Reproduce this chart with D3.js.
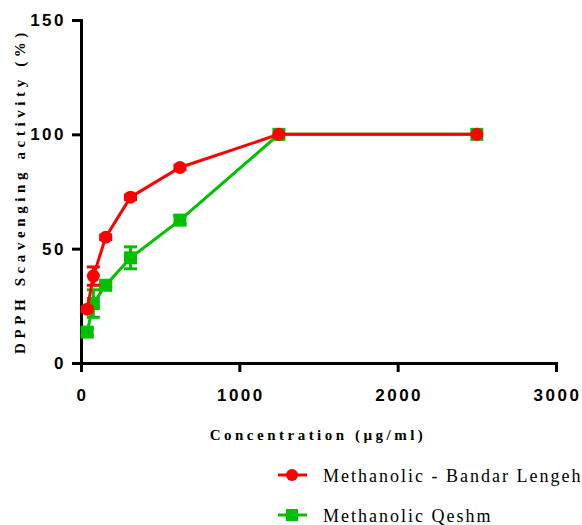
<!DOCTYPE html>
<html lang="en">
<head>
<meta charset="UTF-8">
<title>DPPH Scavenging activity</title>
<style>
  body { margin: 0; background: #fff; }
  svg { display: block; }
  .tick text { font-family: "Liberation Sans", Arial, sans-serif; font-weight: bold; font-size: 17px; letter-spacing: 2.5px; fill: #000; }
  .axis-title { font-family: "Liberation Serif", "Times New Roman", serif; font-weight: bold; font-size: 15px; fill: #000; }
  .legend-text { font-family: "Liberation Serif", "Times New Roman", serif; font-size: 18px; letter-spacing: 2px; fill: #000; }
</style>
</head>
<body>
<svg id="chart"></svg>
<script src="https://cdnjs.cloudflare.com/ajax/libs/d3/7.9.0/d3.min.js"></script>
<script>
// concentrations (µg/ml)
const conc = [39, 78, 156, 312.5, 625, 1250, 2500];

// Methanolic - Bandar Lengeh
const bandarMean = [23.5, 38, 55, 72.5, 85.5, 100, 100];
const bandarErr  = [1, 4, 1, 1, 1, 0, 0];

// Methanolic Qeshm
const qeshmMean = [13.5, 26, 34, 46, 62.5, 100, 100];
const qeshmErr  = [1.5, 6, 1, 4.8, 2, 0, 0];

const xTicks = [0, 1000, 2000, 3000];
const yTicks = [0, 50, 100, 150];

const w = 582, h = 525;
const svg = d3.select("#chart").attr("width", w).attr("height", h);

const x = d3.scaleLinear().domain([0, 3000]).range([81, 556]);
const y = d3.scaleLinear().domain([0, 150]).range([363, 20]);

// axes
const gx = svg.append("g")
  .attr("transform", `translate(0,${y(0)})`)
  .call(d3.axisBottom(x).tickValues(xTicks).tickFormat(d3.format("d")).tickSize(9).tickSizeOuter(0).tickPadding(17));
const gy = svg.append("g")
  .attr("transform", `translate(${x(0)},0)`)
  .call(d3.axisLeft(y).tickValues(yTicks).tickSize(9).tickSizeOuter(0).tickPadding(6));

[gx, gy].forEach(g => {
  g.select(".domain").attr("stroke", "#000").attr("stroke-width", 3).attr("stroke-linecap", "square");
  g.selectAll(".tick line").attr("stroke", "#000").attr("stroke-width", 3);
});
gx.selectAll(".tick text").attr("dx", "1px");

// axis titles
svg.append("text")
  .attr("class", "axis-title")
  .attr("x", 318).attr("y", 440)
  .attr("text-anchor", "middle")
  .style("letter-spacing", "3.5px")
  .text("Concentration (µg/ml)");

svg.append("text")
  .attr("class", "axis-title")
  .attr("transform", "translate(25,191) rotate(-90)")
  .attr("text-anchor", "middle")
  .style("letter-spacing", "4.6px")
  .text("DPPH Scavenging activity (%)");

const series = [
  { name: "Methanolic Qeshm", color: "#00c000", mean: qeshmMean, err: qeshmErr, shape: "square" },
  { name: "Methanolic - Bandar Lengeh", color: "#ff0000", mean: bandarMean, err: bandarErr, shape: "circle" }
];

const line = d3.line().x(d => x(d[0])).y(d => y(d[1]));

series.forEach(s => {
  const pts = conc.map((c, i) => [c, s.mean[i], s.err[i]]);
  const g = svg.append("g");

  // error bars
  pts.filter(d => d[2] > 0).forEach(d => {
    const cx = x(d[0]);
    g.append("line")
      .attr("x1", cx).attr("x2", cx)
      .attr("y1", y(d[1] - d[2])).attr("y2", y(d[1] + d[2]))
      .attr("stroke", s.color).attr("stroke-width", 3);
    [d[1] - d[2], d[1] + d[2]].forEach(v => {
      g.append("line")
        .attr("x1", cx - 6.5).attr("x2", cx + 6.5)
        .attr("y1", y(v)).attr("y2", y(v))
        .attr("stroke", s.color).attr("stroke-width", 3);
    });
  });

  g.append("path")
    .attr("d", line(pts))
    .attr("fill", "none")
    .attr("stroke", s.color)
    .attr("stroke-width", 3);

  if (s.shape === "circle") {
    g.selectAll("circle").data(pts).enter().append("circle")
      .attr("cx", d => x(d[0])).attr("cy", d => y(d[1]))
      .attr("r", 6.5).attr("fill", s.color);
  } else {
    g.selectAll("rect.m").data(pts).enter().append("rect")
      .attr("x", d => x(d[0]) - 6.5).attr("y", d => y(d[1]) - 6.5)
      .attr("width", 13).attr("height", 13).attr("fill", s.color);
  }
});

// legend
const legendItems = [series[1], series[0]];
legendItems.forEach((s, i) => {
  const ly = 475 + i * 40;
  const g = svg.append("g");
  g.append("line")
    .attr("x1", 278).attr("x2", 307)
    .attr("y1", ly).attr("y2", ly)
    .attr("stroke", s.color).attr("stroke-width", 3);
  if (s.shape === "circle") {
    g.append("circle").attr("cx", 292).attr("cy", ly).attr("r", 6).attr("fill", s.color);
  } else {
    g.append("rect").attr("x", 286).attr("y", ly - 6).attr("width", 12).attr("height", 12).attr("fill", s.color);
  }
  g.append("text")
    .attr("class", "legend-text")
    .attr("x", 323).attr("y", ly + 7)
    .text(s.name);
});
</script>
</body>
</html>
